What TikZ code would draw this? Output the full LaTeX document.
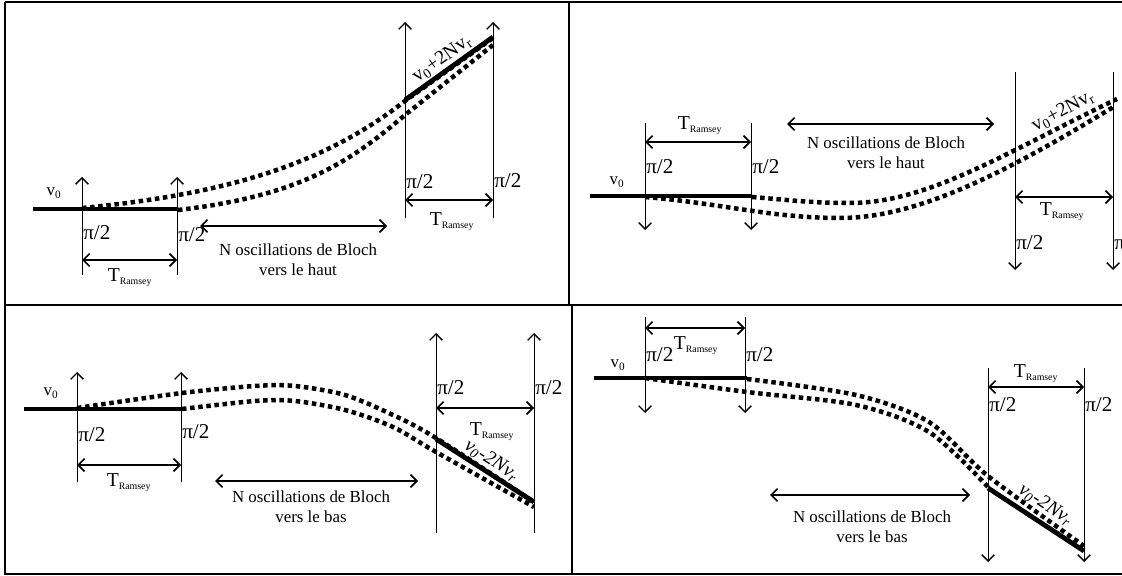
\documentclass[tikz,border=0pt]{standalone}
\usepackage{fontspec}
\setmainfont{Liberation Serif}
\usetikzlibrary{arrows.meta, positioning, calc}

\newcommand{\Tram}{T\textsubscript{\fontsize{7}{8}\selectfont Ramsey}}

\begin{document}
\begin{tikzpicture}[x=0.025cm, y=-0.025cm,
  frame/.style={line width=1.4pt},
  pulse/.style={-{Straight Barb[length=4.5pt, width=9pt, line width=1pt]}, semithick},
  span/.style={{Straight Barb[length=4.5pt, width=9pt, line width=1.2pt]}-{Straight Barb[length=4.5pt, width=9pt, line width=1.2pt]}, line width=1.3pt},
  level/.style={line width=3.4pt},
  track/.style={line width=3.2pt, dash pattern=on 3.2pt off 2.6pt},
  lbl/.style={font=\fontsize{12}{14}\selectfont, inner sep=1pt},
  pilbl/.style={font=\fontsize{15}{17}\selectfont, inner sep=0pt, anchor=west},
  tlbl/.style={font=\fontsize{14}{16}\selectfont, inner sep=0pt},
  slant/.style={font=\fontsize{14}{16}\selectfont\itshape, inner sep=1pt},
  bloch/.style={lbl, align=center},
]
\clip (0,0) rectangle (1122,576);

% cadre
\draw[frame] (5,2) -- (1124,2);
\draw[frame] (5,2) -- (5,574) -- (1124,574);
\draw[frame] (569,2) -- (569,305);
\draw[frame] (572,305) -- (572,574);
\draw[frame] (5,305) -- (1124,305);

% impulsions pi/2
\foreach \n/\x/\ya/\yb in {
  a/82/275/177, b/177/275/177, c/405/218/22, d/493/218/22,
  e/645/123/230, f/751/123/230, g/1015/72/270, h/1113/72/270,
  i/77/482/372, j/181/482/372, k/436/533/333, l/534/533/333,
  m/645/317/413, n/745/317/413, o/988/368/562, p/1084/368/562}{
  \coordinate (\n0) at (\x,\ya);
  \coordinate (\n1) at (\x,\yb);
  \draw[pulse] (\n0) -- (\n1);
}

\foreach \n/\x/\y in {
  a/83/233, b/178/235, c/406/182, d/494/181,
  e/646/167, f/752/167, g/1016/243, h/1114/243,
  i/78/435, j/182/432, k/437/388, l/535/388,
  m/646/355, n/746/355, o/989/405, p/1085/405}{
  \node[pilbl] (pi\n) at (\x,\y) {π/2};
}

% T Ramsey
\foreach \u/\v/\y/\tx/\ty in {
  a/b/260/130/278, c/d/200/452/222, e/f/142/700/126, g/h/197/1062/212,
  i/j/465/129/483, k/l/408/492/432, m/n/328/696/346, o/p/387/1036/374}{
  \coordinate (lev\u) at (0,\y);
  \draw[span] (\u0 |- lev\u) -- (\v0 |- lev\u);
  \node[tlbl] (tr\u) at (\tx,\ty) {\Tram};
}

% niveaux v0
\foreach \n/\xa/\xb/\y/\lx/\ly in {
  A/33/177/209/54/193, B/590/752/196/617/182,
  C/24/182/409/51/393, D/594/747/378/618/365}{
  \coordinate (st\n) at (\xa,\y);
  \coordinate (en\n) at (\xb,\y);
  \draw[level] (st\n) -- (en\n);
  \node[lbl] (vz\n) at (\lx,\ly) {v\textsubscript{0}};
}

% oscillations de Bloch
\coordinate (blA1) at (200,226); \coordinate (blA2) at (387,226);
\coordinate (blB1) at (787,124); \coordinate (blB2) at (994,124);
\coordinate (blC1) at (215,481); \coordinate (blC2) at (418,481);
\coordinate (blD1) at (770,495); \coordinate (blD2) at (970,495);
\draw[span] (blA1) -- (blA2);
\draw[span] (blB1) -- (blB2);
\draw[span] (blC1) -- (blC2);
\draw[span] (blD1) -- (blD2);
\node[bloch] (txA) at (298,260) {N oscillations de Bloch\\vers le haut};
\node[bloch] (txB) at (886,153) {N oscillations de Bloch\\vers le haut};
\node[bloch] (txC) at (311,507) {N oscillations de Bloch\\vers le bas};
\node[bloch] (txD) at (872,527) {N oscillations de Bloch\\vers le bas};

% trajectoires
\draw[track] (82,208) .. controls (250,192) and (335,155) .. (405,101) -- (493,38);
\draw[track] (178,210) .. controls (300,196) and (350,162) .. (405,115) -- (493,45);
\draw[track] (645,197) .. controls (720,203) and (770,218) .. (840,218)
  .. controls (920,218) and (1010,170) .. (1115,106);
\draw[track] (752,197) .. controls (790,200) and (810,203) .. (850,203)
  .. controls (930,203) and (1010,150) .. (1117,99);
\draw[track] plot[smooth] coordinates {(77,408) (182,393) (255,386) (295,386) (345,395) (393,415) (436,438) (534,502)};
\draw[track] plot[smooth] coordinates {(182,409) (255,401) (295,401) (345,410) (393,427) (436,452) (534,507)};
\draw[track] plot[smooth] coordinates {(645,378) (747,392) (856,405) (929,432) (988,487)};
\draw[track] plot[smooth] coordinates {(747,379) (856,395) (929,422) (988,476) (1084,546)};

% niveaux finaux
\coordinate (upA) at (405,100); \coordinate (upB) at (493,37);
\coordinate (dnA) at (436,439); \coordinate (dnB) at (534,502);
\coordinate (dnC) at (988,488); \coordinate (dnD) at (1084,551);
\draw[level] (upA) -- node[tlbl, sloped, above=1pt] (fA) {v\textsubscript{0}+2Nv\textsubscript{r}} (upB);
\draw[level] (dnA) -- node[slant, sloped, above, pos=0.5] (fC) {v\textsubscript{0}-2Nv\textsubscript{r}} (dnB);
\draw[level] (dnC) -- node[slant, sloped, above=4pt, pos=0.5] (fD) {v\textsubscript{0}-2Nv\textsubscript{r}} (dnD);
\node[tlbl, rotate=28] (fB) at (1063,111) {v\textsubscript{0}+2Nv\textsubscript{r}};

\end{tikzpicture}
\end{document}
